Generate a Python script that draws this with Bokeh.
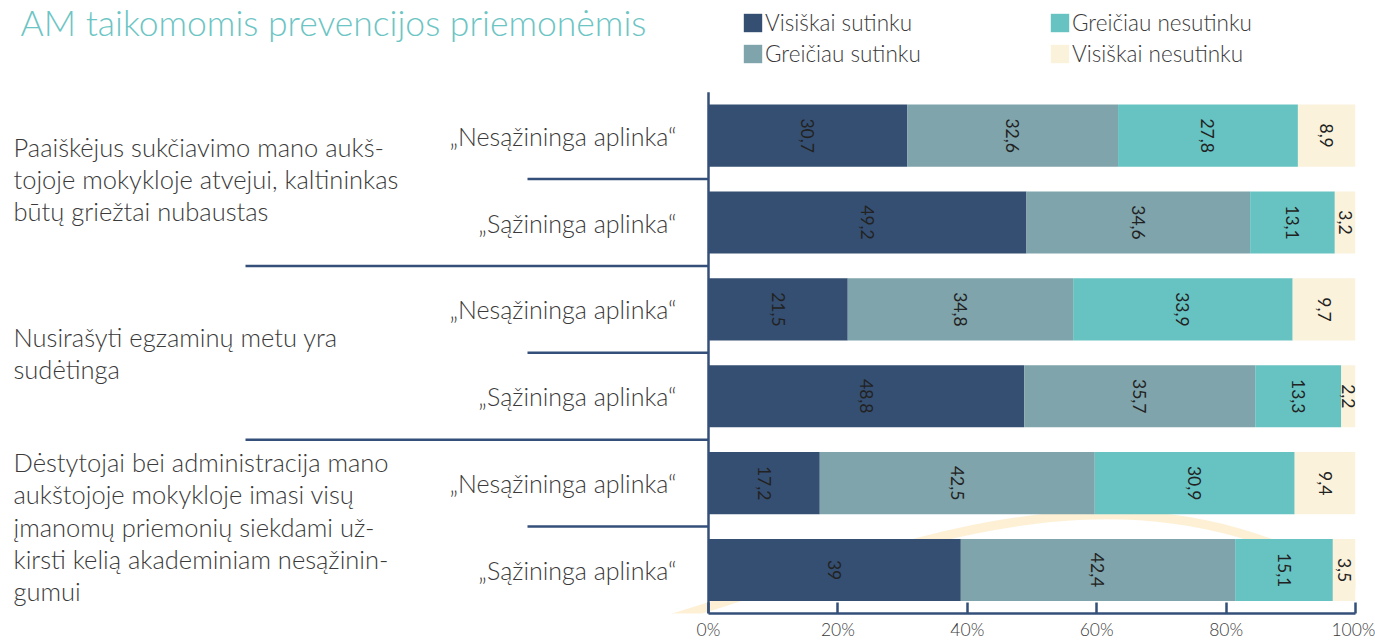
import math
from bokeh.plotting import figure
from bokeh.models import (ColumnDataSource, Range1d, LinearAxis, FixedTicker,
                          CustomJSTickFormatter, Legend, LegendItem)
from bokeh.core.properties import value
from bokeh.embed import file_html
from bokeh.resources import INLINE

# ---------------- data ----------------
title_text = "AM taikomomis prevencijos priemonėmis"
series_names = ["Visiškai sutinku", "Greičiau sutinku", "Greičiau nesutinku", "Visiškai nesutinku"]
env_labels = ["„Nesąžininga aplinka“", "„Sąžininga aplinka“",
              "„Nesąžininga aplinka“", "„Sąžininga aplinka“",
              "„Nesąžininga aplinka“", "„Sąžininga aplinka“"]
statements = [
    ["Paaiškėjus sukčiavimo mano aukš-", "tojoje mokykloje atvejui, kaltininkas", "būtų griežtai nubaustas"],
    ["Nusirašyti egzaminų metu yra", "sudėtinga"],
    ["Dėstytojai bei administracija mano", "aukštojoje mokykloje imasi visų",
     "įmanomų priemonių siekdami už-", "kirsti kelią akademiniam nesąžinin-", "gumui"],
]
visiskai_sutinku = [30.7, 49.2, 21.5, 48.8, 17.2, 39.0]
greiciau_sutinku = [32.6, 34.6, 34.8, 35.7, 42.5, 42.4]
greiciau_nesutinku = [27.8, 13.1, 33.9, 13.3, 30.9, 15.1]
visiskai_nesutinku = [8.9, 3.2, 9.7, 2.2, 9.4, 3.5]
tick_values = [0, 20, 40, 60, 80, 100]

# ---------------- styling ----------------
colors = ["#354f72", "#7fa4ab", "#67c3c2", "#fbf2dc"]
axis_color = "#34507a"
text_color = "#3a3a3a"
FONT = "Lato Light, Lato"
FONT_NUM = "Lato"

W, H = 1375, 642
FRAME_R = 1355          # pixel of 100 %
X_ZERO = 708            # pixel of 0 %
PX_X = (FRAME_R - X_ZERO) / 100.0
X0 = -X_ZERO / PX_X
ROW_TOP = 92            # pixel of top of first row band
PX_Y = 87.2
Y_TOP = 5.5 + ROW_TOP / PX_Y
FRAME_B = ROW_TOP + 6 * PX_Y

def xd(px):
    return X0 + px / PX_X

def yd(py):
    return Y_TOP - py / PX_Y

n = len(env_labels)
rows = [float(n - 1 - i) for i in range(n)]
series = [visiskai_sutinku, greiciau_sutinku, greiciau_nesutinku, visiskai_nesutinku]
keys = ["s0", "s1", "s2", "s3"]
totals = [sum(s[i] for s in series) for i in range(n)]
data = {"y": rows}
for k, s in zip(keys, series):
    data[k] = [v / t * 100 for v, t in zip(s, totals)]
src = ColumnDataSource(data)

p = figure(width=W, height=H, x_range=Range1d(X0, 100), y_range=Range1d(-0.5, Y_TOP),
           x_axis_type=None, y_axis_type=None, toolbar_location=None,
           output_backend="svg", min_border_left=0, min_border_right=W - FRAME_R,
           min_border_top=0, min_border_bottom=int(H - FRAME_B), outline_line_color=None,
           background_fill_color="white", border_fill_color="white")

# decorative background swoosh
p.bezier(x0=[xd(560)], y0=[yd(650)], x1=[xd(1400)], y1=[yd(615)],
         cx0=[xd(850)], cy0=[yd(585)], cx1=[xd(1110)], cy1=[yd(405)],
         line_color="#fcecca", line_width=9, line_alpha=0.8)

renderers = p.hbar_stack(keys, y="y", height=0.715, color=colors, source=src, line_color=None)

# value labels (rotated)
lx, ly, lt = [], [], []
for i in range(n):
    cum = 0.0
    for k, s in zip(keys, series):
        w = data[k][i]
        lx.append(cum + w / 2)
        ly.append(rows[i])
        lt.append(("%g" % s[i]).replace(".", ","))
        cum += w
p.text(x=lx, y=ly, text=lt, angle=-math.pi / 2, text_align="center", text_baseline="middle",
       text_font=value(FONT_NUM), text_font_size="17.5px", text_color="#222222")

# environment labels
p.text(x=[xd(676)] * n, y=rows, text=env_labels, text_align="right", text_baseline="middle",
       text_font=value(FONT), text_font_size="25px", text_color=text_color)

# statement labels
sx, sy, st = [], [], []
line_gap = 32.5 / PX_Y
for g, lines in enumerate(statements):
    center = rows[2 * g] - 0.5
    m = len(lines)
    for j, t in enumerate(lines):
        sx.append(xd(13))
        sy.append(center + ((m - 1) / 2 - j) * line_gap)
        st.append(t)
p.text(x=sx, y=sy, text=st, text_align="left", text_baseline="middle",
       text_font=value(FONT), text_font_size="25.5px", text_color=text_color)

# separators and vertical axis line
seg_x0, seg_y = [], []
for i in range(n - 1):
    seg_y.append(rows[i] - 0.5)
    seg_x0.append(xd(527) if i % 2 == 0 else xd(245))
p.segment(x0=seg_x0, y0=seg_y, x1=[0] * len(seg_y), y1=seg_y, line_color=axis_color, line_width=2.5)
p.segment(x0=[0], y0=[-0.5], x1=[0], y1=[rows[0] + 0.5], line_color=axis_color, line_width=2.5)

# title
p.text(x=[xd(20)], y=[yd(22)], text=[title_text], text_align="left", text_baseline="middle",
       text_font=value(FONT), text_font_size="35.5px", text_color="#6cc5c4")

# x axis
xaxis = LinearAxis(bounds=(0, 100), ticker=FixedTicker(ticks=tick_values),
                   formatter=CustomJSTickFormatter(code="return tick + '%';"))
xaxis.axis_line_color = axis_color
xaxis.axis_line_width = 2.5
xaxis.major_tick_line_color = axis_color
xaxis.major_tick_line_width = 2.5
xaxis.major_tick_in = 11
xaxis.major_tick_out = 0
xaxis.minor_tick_line_color = None
xaxis.major_label_standoff = 5
xaxis.major_label_text_font = FONT
xaxis.major_label_text_font_size = "17.5px"
xaxis.major_label_text_color = "#3a3a3a"
p.add_layout(xaxis, "below")

# legend
items = [LegendItem(label=nm, renderers=[r]) for nm, r in zip(series_names, renderers)]
legend = Legend(items=items, location=(741, int(FRAME_B - 69)), orientation="vertical", nrows=2,
                glyph_width=23, glyph_height=23, label_standoff=1, spacing=4,
                padding=0, margin=0, border_line_alpha=0, background_fill_alpha=0,
                label_text_font=FONT, label_text_font_size="22.5px", label_text_color=text_color,
                label_width=279, label_height=23)
p.add_layout(legend)

open("out.html", "w").write(file_html(p, INLINE))
